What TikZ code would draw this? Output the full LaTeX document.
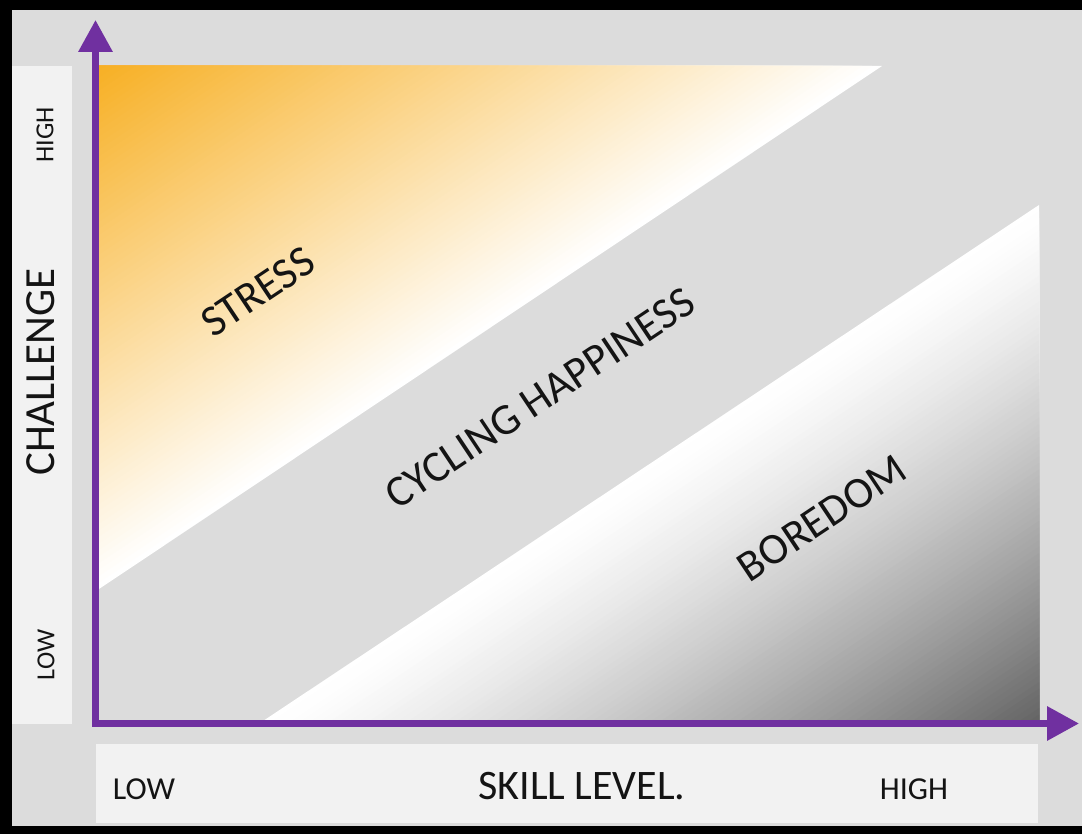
\documentclass[tikz,border=0pt]{standalone}
\usepackage{fontspec}
\setmainfont{Carlito}
\usetikzlibrary{calc}
\usetikzlibrary{arrows.meta}
\definecolor{flowpurple}{HTML}{7030A0}
\definecolor{stressorange}{HTML}{F7AF22}
\definecolor{boredgray}{HTML}{636363}
\definecolor{panelgray}{HTML}{DCDCDC}
\definecolor{stripgray}{HTML}{F2F2F2}

\begin{document}
\begin{tikzpicture}[x=1pt,y=-1pt,
  axis/.style={line width=6.5pt, draw=flowpurple, line join=miter, >={Triangle[length=32pt,width=33pt]}, <->},
  strip/.style={fill=stripgray},
  zone/.style={font=\fontsize{44}{44}\selectfont, text=black!92, rotate=33.7, inner sep=0pt},
  tick/.style={font=\fontsize{26}{26}\selectfont, text=black!92, rotate=90, inner sep=0pt},
  level/.style={font=\fontsize{32}{32}\selectfont, text=black!92, inner sep=0pt}]
\useasboundingbox (0,0) rectangle (1082,834);
\fill[black] (0,0) rectangle (1082,834);
\fill[panelgray] (12,10) rectangle (1082,826);

% label strips
\fill[strip] (12,66) rectangle (72,724);
\fill[strip] (96,744) rectangle (1038,823);

% stress wedge: orange corner fading to white
\coordinate (sA) at (96,66);
\coordinate (sB) at (882,66);
\coordinate (sC) at (96,591);
\foreach \i in {0,...,79}{
  \pgfmathsetmacro{\s}{1-\i/80}
  \pgfmathsetmacro{\m}{100*\i/80}
  \fill[stressorange!\m!white] (sA) -- ($(sA)!\s!(sB)$) -- ($(sA)!\s!(sC)$) -- cycle;
}

% boredom wedge: white fading to dark grey, slower near the edge
\coordinate (bA) at (1039,721);
\coordinate (bB) at (1039,205);
\coordinate (bC) at (263,721);
\foreach \i in {0,...,79}{
  \pgfmathsetmacro{\s}{1-\i/80}
  \pgfmathsetmacro{\m}{100*(\i/80)^1.3}
  \fill[boredgray!\m!white] (bA) -- ($(bA)!\s!(bB)$) -- ($(bA)!\s!(bC)$) -- cycle;
}

\node[zone] (stress) at (258,292) {STRESS};
\node[zone] (happy) at (540,398) {CYCLING HAPPINESS};
\node[zone] (bored) at (822,518) {BOREDOM};

\node[tick] (chigh) at (45,135) {HIGH};
\node[tick, font=\fontsize{43}{43}\selectfont] (challenge) at (41,372) {CHALLENGE};
\node[tick] (clow) at (46,655) {LOW};

\node[level] (slow) at (144,789) {LOW};
\node[level, font=\fontsize{42}{42}\selectfont] (skill) at (582,786) {SKILL LEVEL.};
\node[level] (shigh) at (914,789) {HIGH};

% axes
\coordinate (ytip) at (95.5,20);
\coordinate (origin) at (95.5,723.5);
\coordinate (xtip) at (1079,723.5);
\draw[axis] (ytip) -- (origin) -- (xtip);
\end{tikzpicture}
\end{document}
